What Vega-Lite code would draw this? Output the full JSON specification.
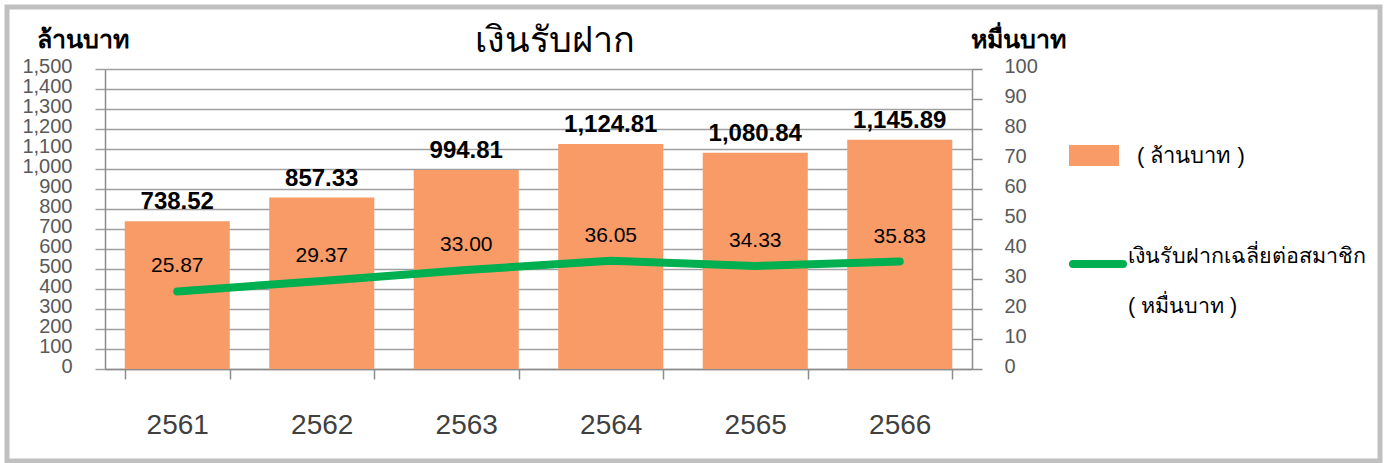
{
  "$schema": "https://vega.github.io/schema/vega-lite/v6.json",
  "autosize": {"type": "none"},
  "padding": {"left": 7, "top": 7, "right": 6, "bottom": 2},
  "width": 1373,
  "height": 454,
  "background": "white",
  "title": {
    "text": "เงินรับฝาก",
    "fontSize": 36,
    "fontWeight": "normal",
    "color": "#000000",
    "anchor": "middle",
    "baseline": "alphabetic",
    "offset": 0,
    "dx": -139,
    "dy": 81
  },
  "data": {
    "values": [
      {"year": "2561", "deposit": 738.52, "avg": 25.87},
      {"year": "2562", "deposit": 857.33, "avg": 29.37},
      {"year": "2563", "deposit": 994.81, "avg": 33.00},
      {"year": "2564", "deposit": 1124.81, "avg": 36.05},
      {"year": "2565", "deposit": 1080.84, "avg": 34.33},
      {"year": "2566", "deposit": 1145.89, "avg": 35.83}
    ]
  },
  "encoding": {
    "x": {
      "field": "year",
      "type": "ordinal",
      "scale": {"range": [98, 965], "paddingInner": 0.273, "paddingOuter": 0.1365},
      "axis": {
        "orient": "bottom",
        "offset": -92,
        "title": null,
        "labelAngle": 0,
        "tickBand": "extent",
        "tickSize": 10,
        "tickColor": "#8C8C8C",
        "tickWidth": 1.5,
        "domainColor": "#8C8C8C",
        "domainWidth": 1.5,
        "labelFontSize": 28,
        "labelColor": "#404040",
        "labelBaseline": "alphabetic",
        "labelPadding": 54,
        "grid": false
      }
    }
  },
  "layer": [
    {
      "encoding": {
        "y": {
          "field": "deposit",
          "type": "quantitative",
          "scale": {"domain": [0, 1500], "range": [362, 62], "nice": false, "zero": true},
          "axis": {
            "orient": "left",
            "offset": -98,
            "values": [0, 100, 200, 300, 400, 500, 600, 700, 800, 900, 1000, 1100, 1200, 1300, 1400, 1500],
            "format": ",d",
            "labelOverlap": false,
            "grid": true,
            "gridColor": "#A0A0A0",
            "gridWidth": 1.5,
            "domainColor": "#8C8C8C",
            "domainWidth": 1.5,
            "tickColor": "#A0A0A0",
            "tickWidth": 1.5,
            "tickSize": 10,
            "labelFontSize": 20,
            "labelColor": "#595959",
            "labelPadding": 23,
            "labelOffset": -3,
            "title": "ล้านบาท",
            "titleAngle": 0,
            "titleAlign": "left",
            "titleBaseline": "alphabetic",
            "titleX": -69,
            "titleY": 40,
            "titleFontSize": 25,
            "titleFontWeight": "bold",
            "titleColor": "#000000"
          }
        }
      },
      "layer": [
        {
          "mark": {"type": "bar"},
          "encoding": {
            "fill": {
              "datum": "( ล้านบาท )",
              "scale": {"range": ["#F99B67"]},
              "legend": {
                "orient": "none",
                "legendX": 1062,
                "legendY": 123.5,
                "title": null,
                "padding": 0,
                "symbolType": "M-1,-0.42H1V0.42H-1Z",
                "symbolSize": 2500,
                "symbolStrokeWidth": 0,
                "symbolOpacity": 1,
                "labelFontSize": 22,
                "labelOffset": 18,
                "labelColor": "#000000",
                "labelLimit": 0
              }
            }
          }
        },
        {
          "mark": {"type": "text", "fontSize": 24, "fontWeight": "bold", "baseline": "alphabetic", "dy": -12, "color": "#000000"},
          "encoding": {
            "text": {"field": "deposit", "type": "quantitative", "format": ",.2f"}
          }
        }
      ]
    },
    {
      "encoding": {
        "y": {
          "field": "avg",
          "type": "quantitative",
          "scale": {"domain": [0, 100], "range": [362, 62], "nice": false, "zero": true},
          "axis": {
            "orient": "right",
            "offset": -408,
            "values": [0, 10, 20, 30, 40, 50, 60, 70, 80, 90, 100],
            "labelOverlap": false,
            "grid": false,
            "domainColor": "#8C8C8C",
            "domainWidth": 1.5,
            "tickColor": "#8C8C8C",
            "tickWidth": 1.5,
            "tickSize": 10,
            "labelFontSize": 20,
            "labelColor": "#595959",
            "labelPadding": 22,
            "labelOffset": -3,
            "title": "หมื่นบาท",
            "titleAngle": 0,
            "titleAlign": "left",
            "titleBaseline": "alphabetic",
            "titleX": -2,
            "titleY": 40,
            "titleFontSize": 25,
            "titleFontWeight": "bold",
            "titleColor": "#000000"
          }
        }
      },
      "layer": [
        {
          "mark": {"type": "line", "color": "#00B050", "strokeWidth": 8, "strokeCap": "round", "strokeJoin": "round"},
          "encoding": {
            "stroke": {
              "datum": "เงินรับฝากเฉลี่ยต่อสมาชิก",
              "scale": {"range": ["#00B050"]},
              "legend": {
                "orient": "none",
                "legendX": 1062,
                "legendY": 228,
                "title": null,
                "padding": 0,
                "symbolType": "stroke",
                "symbolSize": 2500,
                "symbolStrokeWidth": 8,
                "labelFontSize": 21.5,
                "labelOffset": 1,
                "labelColor": "#000000",
                "labelLimit": 0,
                "labelExpr": "[datum.label, '( หมื่นบาท )']",
                "encode": {
                  "symbols": {"update": {"strokeCap": {"value": "round"}}},
                  "labels": {"update": {"lineHeight": {"value": 50}, "dy": {"value": -7}}}
                }
              }
            }
          }
        },
        {
          "mark": {"type": "text", "fontSize": 21, "baseline": "alphabetic", "dy": -19, "color": "#000000"},
          "encoding": {
            "text": {"field": "avg", "type": "quantitative", "format": ".2f"}
          }
        }
      ]
    }
  ],
  "resolve": {"scale": {"y": "independent"}, "axis": {"y": "independent"}},
  "config": {
    "font": "Liberation Sans",
    "view": {"stroke": "#C0C0C0", "strokeWidth": 5}
  }
}
